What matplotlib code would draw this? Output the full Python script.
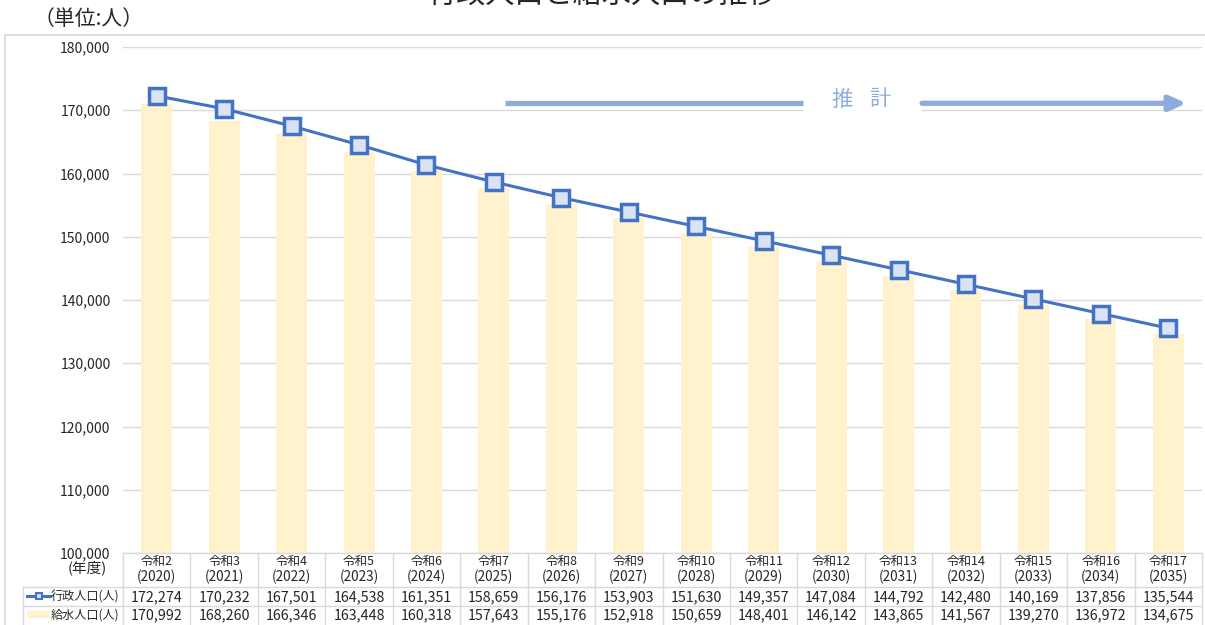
import matplotlib
matplotlib.use('Agg')
import matplotlib.pyplot as plt
from matplotlib.transforms import blended_transform_factory
from matplotlib.patches import Rectangle
from matplotlib.lines import Line2D
from matplotlib.ticker import FuncFormatter

plt.rcParams['font.family'] = ['Noto Sans CJK JP', 'DejaVu Sans']

wareki = ['令和2', '令和3', '令和4', '令和5', '令和6', '令和7', '令和8', '令和9',
          '令和10', '令和11', '令和12', '令和13', '令和14', '令和15', '令和16', '令和17']
years = [2020, 2021, 2022, 2023, 2024, 2025, 2026, 2027,
         2028, 2029, 2030, 2031, 2032, 2033, 2034, 2035]
gyosei = [172274, 170232, 167501, 164538, 161351, 158659, 156176, 153903,
          151630, 149357, 147084, 144792, 142480, 140169, 137856, 135544]
kyusui = [170992, 168260, 166346, 163448, 160318, 157643, 155176, 152918,
          150659, 148401, 146142, 143865, 141567, 139270, 136972, 134675]

LINE_C = '#4472c4'
BAR_C = '#fff2cc'
ARROW_C = '#8faadc'
GRID_C = '#d9d9d9'
TXT_C = '#262626'

W, H = 1205, 625
fig = plt.figure(figsize=(W / 100, H / 100), dpi=100)


def fx(px):
    return px / W


def fy(py):
    return 1 - py / H


ax = fig.add_axes([fx(123), fy(553), fx(1202) - fx(123), fy(47) - fy(553)])
x = list(range(len(years)))
ax.bar(x, kyusui, width=0.46, color=BAR_C, zorder=2)
ax.plot(x, gyosei, color=LINE_C, lw=2.2, marker='s', ms=11.5, mfc='#dae3f3',
        mec=LINE_C, mew=2.5, zorder=4)
ax.set_ylim(100000, 180000)
ax.set_xlim(-0.5, len(years) - 0.5)
ax.set_yticks(range(100000, 180001, 10000))
ax.yaxis.set_major_formatter(FuncFormatter(lambda v, p: f'{int(v):,}'))
ax.grid(axis='y', color=GRID_C, lw=1, zorder=0)
ax.set_axisbelow(True)
for s in ax.spines.values():
    s.set_visible(False)
ax.tick_params(axis='y', length=0, pad=9, labelsize=10, labelcolor=TXT_C)
ax.set_xticks([])

# estimate arrow
ya = 171100
ax.plot([5.16, 9.58], [ya, ya], color=ARROW_C, lw=3.8, solid_capstyle='butt', zorder=3)
ax.add_patch(Rectangle((9.58, 169200), 11.35 - 9.58, 4800, facecolor='white',
                       edgecolor='none', zorder=2.5))
ax.text(10.17, ya + 600, '推', ha='center', va='center', fontsize=15.5,
        color=ARROW_C, zorder=3)
ax.text(10.72, ya + 600, '計', ha='center', va='center', fontsize=15.5,
        color=ARROW_C, zorder=3)
ax.annotate('', xy=(15.27, ya), xytext=(11.35, ya),
            arrowprops=dict(arrowstyle='-|>,head_length=1.0,head_width=0.45',
                            lw=3.8, color=ARROW_C, shrinkA=0, shrinkB=0),
            zorder=3)

# table
tr = blended_transform_factory(ax.transData, fig.transFigure)
n = len(years)


def hline(y_px, x0_px):
    fig.add_artist(Line2D([fx(x0_px), fx(1202)], [fy(y_px)] * 2, color=GRID_C, lw=1))


hline(553, 123)
hline(587, 23)
hline(606, 23)
for i in range(n + 1):
    fig.add_artist(Line2D([i - 0.5, i - 0.5], [fy(553), fy(625)], color=GRID_C,
                          lw=1, transform=tr))
fig.add_artist(Line2D([fx(23), fx(23)], [fy(587), fy(625)], color=GRID_C, lw=1))

for i in range(n):
    fig.text(i, fy(562), wareki[i], transform=tr, ha='center', va='center',
             fontsize=9, color=TXT_C)
    fig.text(i, fy(577), f'({years[i]})', transform=tr, ha='center', va='center',
             fontsize=9.8, color=TXT_C)
    fig.text(i, fy(597), f'{gyosei[i]:,}', transform=tr, ha='center', va='center',
             fontsize=10.3, color=TXT_C)
    fig.text(i, fy(615.5), f'{kyusui[i]:,}', transform=tr, ha='center', va='center',
             fontsize=10.3, color=TXT_C)

fig.text(fx(87), fy(568), '(年度)', ha='center', va='center', fontsize=10.5, color=TXT_C)
fig.text(fx(119), fy(597), '行政人口(人)', ha='right', va='center', fontsize=8.7, color=TXT_C)
fig.text(fx(119), fy(615.5), '給水人口(人)', ha='right', va='center', fontsize=8.7, color=TXT_C)
fig.add_artist(Line2D([fx(27), fx(50)], [fy(596)] * 2, color=LINE_C, lw=2.2))
fig.add_artist(Line2D([fx(39)], [fy(596)], color=LINE_C, marker='s', ms=4.5,
                      mfc='#dae3f3', mec=LINE_C, mew=1.5, lw=0))
fig.add_artist(Rectangle((fx(27), fy(618)), fx(50) - fx(27), fy(611) - fy(618),
                         transform=fig.transFigure, facecolor=BAR_C, edgecolor='none'))

# frame
fig.add_artist(Line2D([fx(5), fx(5), fx(1205)], [fy(625), fy(35), fy(35)],
                      color=GRID_C, lw=1.2))

fig.text(fx(89), fy(19), '（単位:人）', ha='center', va='center', fontsize=15, color=TXT_C)
fig.text(0.5, fy(4), '行政人口と給水人口の推移', ha='center', va='baseline',
         fontsize=21, color=TXT_C)

fig.savefig('out.png', dpi=100)
